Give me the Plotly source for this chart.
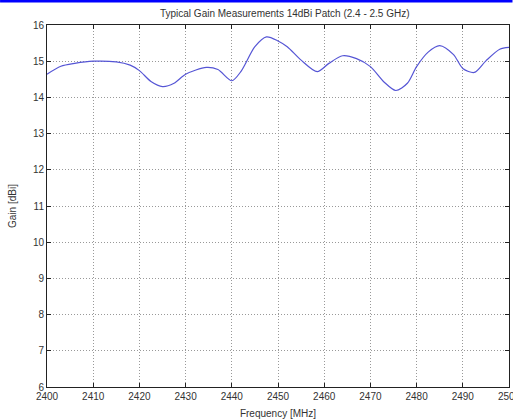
import plotly.graph_objects as go

freq_mhz = [2400, 2403, 2406, 2410, 2415, 2418, 2420, 2422.5, 2425, 2427.5, 2430,
            2434.5, 2437, 2440, 2442, 2445, 2447.5, 2450, 2452, 2455, 2458.5, 2461,
            2464, 2467, 2470, 2473, 2475.5, 2478, 2480, 2482.5, 2485, 2488, 2490,
            2492.5, 2495, 2498, 2500]
gain_dbi = [14.64, 14.86, 14.94, 15.0, 14.98, 14.89, 14.74, 14.44, 14.3, 14.39, 14.64,
            14.83, 14.77, 14.46, 14.72, 15.4, 15.67, 15.56, 15.4, 15.03, 14.71, 14.94,
            15.15, 15.07, 14.85, 14.42, 14.19, 14.39, 14.85, 15.25, 15.43, 15.18, 14.8,
            14.69, 15.01, 15.33, 15.38]
x_ticks = list(range(2400, 2501, 10))
y_ticks = list(range(6, 17))

W, H = 513, 419
ml, mr, mt, mb = 47, 3.5, 24.5, 32.3
pw, ph = W - ml - mr, H - mt - mb

fig = go.Figure()
fig.add_trace(go.Scatter(x=freq_mhz, y=gain_dbi, mode="lines",
                         line=dict(color="#5555d5", width=1.2, shape="spline", smoothing=0.8),
                         showlegend=False, cliponaxis=True, hoverinfo="skip"))

font = dict(family="Liberation Sans, Arial, sans-serif", size=10, color="#333333")
axis_common = dict(showline=True, linecolor="#222222", linewidth=1, mirror="ticks",
                   ticks="inside", ticklen=4, tickcolor="#222222",
                   showgrid=True, gridcolor="#999999", griddash="1px,2px", gridwidth=1,
                   zeroline=False, automargin=False, tickfont=font,
                   ticklabeloverflow="allow")

fig.update_layout(
    width=W, height=H, template="none",
    margin=dict(l=ml, r=mr, t=mt, b=mb, pad=0),
    paper_bgcolor="white", plot_bgcolor="white",
    title=dict(text="Typical Gain Measurements 14dBi Patch (2.4 - 2.5 GHz)",
               x=(285 - ml) / pw, xref="paper", xanchor="center",
               y=1 - 13 / H, yref="container", yanchor="middle",
               font=dict(family="Liberation Sans, Arial, sans-serif", size=10, color="#333333")),
    xaxis=dict(range=[2400, 2500], tickvals=x_ticks,
               title=dict(text="Frequency [MHz]", font=font, standoff=8), **axis_common),
    yaxis=dict(range=[6, 16], tickvals=y_ticks,
               title=dict(text="Gain [dBi]", font=font, standoff=14), **axis_common),
    shapes=[dict(type="rect", xref="paper", yref="paper",
                 x0=-ml / pw, x1=1 + mr / pw,
                 y0=1 + (mt - 2) / ph, y1=1 + (mt + 1) / ph,
                 line=dict(width=0), fillcolor="#0000ff", layer="above")],
)

fig.write_html("out.html", config={"displayModeBar": False},
               post_script="document.body.style.margin='0';document.body.style.overflow='hidden';")
